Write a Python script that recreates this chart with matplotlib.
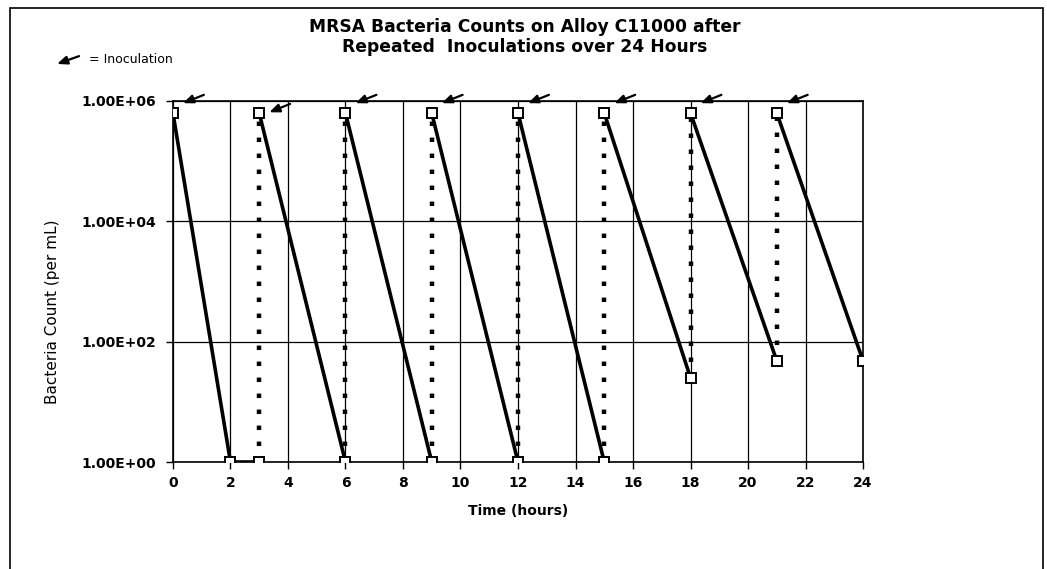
import numpy as np
import matplotlib.pyplot as plt
from matplotlib.ticker import FuncFormatter, FixedLocator
from matplotlib.patches import Rectangle, FancyArrowPatch

## MRSA counts on alloy C11000, re-inoculated every 3 hours
inoc_t = [0, 3, 6, 9, 12, 15, 18, 21]
peak = [6.3e5, 6.3e5, 6.3e5, 6.3e5, 6.3e5, 6.3e5, 6.3e5, 6.3e5]
pre_inoc = [None, 1, 1, 1, 1, 1, 25, 48]     # count just before each inoculation
end_t = [2, 6, 9, 12, 15, 18, 21, 24]
end_count = [1, 1, 1, 1, 1, 25, 48, 48]
flat_t = [2, 3]
flat_count = [1, 1]

arrow_y = [9.2e5, 6.5e5, 9.2e5, 9.2e5, 9.2e5, 9.2e5, 9.2e5, 9.2e5]

title = "MRSA Bacteria Counts on Alloy C11000 after\nRepeated  Inoculations over 24 Hours"

plt.rcParams['font.family'] = ['DejaVu Sans']

fig = plt.figure(figsize=(10.47, 5.69), dpi=100)
ax = fig.add_axes([0.1652, 0.188, 0.6591, 0.6345])

# decay segments (solid)
for i in range(len(inoc_t)):
    ax.plot([inoc_t[i], end_t[i]], [peak[i], end_count[i]], color='black', lw=2.6,
            solid_capstyle='butt', zorder=3)
ax.plot(flat_t, flat_count, color='black', lw=2.6, zorder=3)

# re-inoculation jumps (dotted)
for i in range(1, len(inoc_t)):
    ax.plot([inoc_t[i], inoc_t[i]], [pre_inoc[i], peak[i]], color='black', lw=3.2,
            linestyle=(0, (1.0, 2.6)), zorder=3)

# markers
all_t = inoc_t + end_t + flat_t
all_c = peak + end_count + flat_count
ax.plot(all_t, all_c, linestyle='none', marker='s', markersize=6.5,
        markerfacecolor='white', markeredgecolor='black', markeredgewidth=1.4, zorder=4)

# inoculation arrows
for t, ya in zip(inoc_t, arrow_y):
    ax.annotate('', xy=(t + 0.35, ya), xytext=(15, 6), textcoords='offset points',
                arrowprops=dict(arrowstyle='-|>,head_length=0.6,head_width=0.25',
                                color='black', lw=1.6, shrinkA=0, shrinkB=0),
                annotation_clip=False, zorder=5)

ax.set_yscale('log')
ax.set_ylim(1, 1e6)
ax.set_xlim(0, 24)
ax.yaxis.set_major_locator(FixedLocator([1, 1e2, 1e4, 1e6]))
ax.yaxis.set_minor_locator(FixedLocator([]))
ax.set_xticks(np.arange(0, 25, 2))
ax.yaxis.set_major_formatter(FuncFormatter(lambda v, p: '%.2E' % v))

ax.grid(True, color='black', lw=0.9)
ax.set_axisbelow(True)
for s in ax.spines.values():
    s.set_color('black')
    s.set_linewidth(1.2)

ax.tick_params(axis='both', direction='out', length=5, width=1, color='black')
ax.tick_params(axis='y', pad=7)
ax.tick_params(axis='x', pad=5)
for lab in ax.get_xticklabels() + ax.get_yticklabels():
    lab.set_fontweight('bold')
    lab.set_fontsize(10)

ax.set_xlabel('Time (hours)', fontsize=10, fontweight='bold', labelpad=10)
ax.set_ylabel('Bacteria Count (per mL)', fontsize=11)
ax.yaxis.set_label_coords(-0.164, 0.415)

fig.text(0.5014, 0.968, title, ha='center', va='top', fontsize=12.3, fontweight='bold',
         linespacing=1.15)

# legend key for arrows
fig.text(0.085, 0.895, '= Inoculation', ha='left', va='center', fontsize=9)
fig.patches.append(FancyArrowPatch(
    (0.078, 0.903), (0.052, 0.886), transform=fig.transFigure,
    arrowstyle='-|>,head_length=6,head_width=2.5', color='black', lw=1.6))

# page border
fig.patches.append(Rectangle((10 / 1047, -0.1), 1033 / 1047, 1.1 - 8 / 569,
                             transform=fig.transFigure, fill=False,
                             edgecolor='black', lw=1.2))

fig.savefig('out.png', dpi=100)
